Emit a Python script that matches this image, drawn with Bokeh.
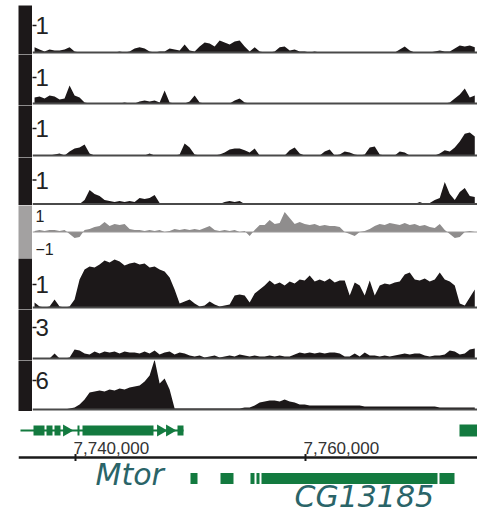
import math
from bokeh.plotting import figure
from bokeh.layouts import column, row
from bokeh.models import Range1d, Span, Spacer
from bokeh.core.properties import value
from bokeh.embed import file_html
from bokeh.resources import INLINE

# ---------------- data ----------------
BIN_START = 7736440
BIN_STEP = 435
positions = [BIN_START + BIN_STEP * k for k in range(89)]

track1 = [0.19,0.11,0.04,0.11,0.07,0.07,0.11,0.19,0.04,0, 0,0,0,0,0,0,0,0.04,0,0.04,
          0.15,0.19,0.15,0.04,0,0.04,0.04,0.15,0.11,0.07, 0.30,0.07,0.04,0.22,0.37,0.33,0.22,0.44,0.37,0.30,
          0.41,0.44,0.22,0.04,0.19,0.04,0,0,0.04,0.19, 0.22,0.07,0.11,0.04,0.04,0,0.04,0,0,0,
          0,0,0,0,0,0,0,0,0,0, 0,0,0,0.11,0.22,0.07,0,0,0,0,
          0.04,0.07,0.04,0.04,0.15,0.26,0.22,0.26,0.19]
track2 = [0.23,0.27,0.19,0.31,0.27,0.15,0.19,0.69,0.31,0.23, 0.04,0,0,0,0,0,0,0,0.04,0,
          0,0.08,0.12,0.08,0.12,0.04,0.50,0.04,0,0, 0,0.08,0.31,0.04,0,0,0,0,0,0,
          0.12,0.19,0.04,0,0,0,0,0,0,0, 0,0,0,0,0,0,0,0,0,0,
          0,0,0,0,0,0,0,0,0,0, 0,0,0,0,0,0,0,0,0,0,
          0,0,0,0.04,0.19,0.35,0.58,0.23,0.31]
track3 = [0,0,0,0,0.04,0.07,0,0.15,0.26,0.30, 0.41,0.07,0,0,0,0,0,0,0,0,
          0,0,0,0.07,0,0,0,0,0,0.04, 0.44,0.30,0.04,0,0,0,0,0.04,0.11,0.22,
          0.26,0.26,0.19,0.11,0.26,0,0,0,0,0, 0,0.19,0.30,0.07,0,0,0,0,0.15,0.22,
          0,0.04,0.15,0.11,0.04,0,0.04,0.30,0.33,0.04, 0,0,0,0.15,0.11,0,0,0,0,0,
          0,0.07,0.19,0.15,0.30,0.52,0.81,0.85,0.70]
track4 = [0,0,0,0,0,0,0,0,0.04,0, 0.17,0.58,0.42,0.33,0.17,0.13,0.08,0.13,0.08,0.13,
          0.08,0.25,0.21,0.25,0.38,0.04,0,0,0,0, 0,0,0,0,0,0,0,0,0.08,0.13,
          0.08,0.13,0,0,0,0,0,0,0,0, 0,0,0,0,0,0,0,0,0,0,
          0,0,0,0,0,0,0,0,0,0, 0,0,0,0,0,0,0,0.08,0,0.04,
          0.17,0.25,0.92,0.42,0.17,0.50,0.67,0.33,0.29]
track5 = [0.05,0.10,0.05,0.10,0.10,0.05,0.10,-0.10,-0.31,-0.26, 0.10,0.15,0.26,0.31,0.51,0.31,0.41,0.36,0.41,0.15,
          0.10,0.10,0.05,0.10,0.05,0.10,0,0.05,0.15,0.10, 0.15,0.10,0.15,0.10,0.21,0.31,0.10,0.05,0.10,0.05,
          0.10,0,0.05,-0.21,0.10,0.36,0.36,0.62,0.41,0.46, 1.03,0.72,0.41,0.51,0.41,0.36,0.41,0.31,0.36,0.31,
          0.31,0.26,0,-0.10,-0.21,0,0.05,0.15,0.31,0.41, 0.36,0.46,0.41,0.36,0.46,0.36,0.41,0.31,0.36,0.26,
          0.21,0.41,0.10,-0.10,-0.31,-0.26,0,0.05,0]
track6 = [0.22,0.04,0,0.04,0.35,0.04,0,0.04,0.35,1.22, 1.65,1.78,1.74,1.87,2.04,1.96,2.09,2.00,1.83,1.91,
          1.96,1.87,1.91,1.74,1.78,1.65,1.57,1.30,0.78,0.17, 0.26,0.35,0.17,0.04,0.09,0.26,0.13,0.04,0.09,0.13,
          0.52,0.57,0.52,0.22,0.61,0.78,0.96,1.17,1.00,1.09, 0.96,1.13,1.04,1.22,1.17,1.39,1.13,1.22,1.13,1.26,
          1.09,1.17,1.17,0.52,1.09,0.96,0.52,1.17,0.52,0.96, 1.04,1.00,1.09,1.13,1.43,1.52,1.22,1.17,1.26,1.13,
          1.22,1.52,1.22,1.13,0.96,0.17,0.09,0.43,0.78]
track7 = [0,0,0,0,0.49,0,0,0.10,0.87,0.78, 0.49,0.39,0.68,0.49,0.68,0.58,0.68,0.49,0.68,0.58,
          0.58,0.49,0.68,0.49,0.78,0.39,0.58,0.68,0.39,0.58, 0.49,0.29,0.19,0.29,0.10,0.19,0.29,0.10,0.19,0.29,
          0.19,0.39,0.29,0.19,0.29,0.19,0.19,0.29,0.19,0.29, 0.19,0.19,0.39,0.58,0.49,0.58,0.49,0.58,0.49,0.58,
          0.58,0.49,0.19,0.19,0.49,0.19,0.58,0.29,0.29,0.19, 0.29,0.19,0.29,0.39,0.49,0.39,0.49,0.49,0.29,0.19,
          0.29,0.29,0.39,0.78,0.68,0.39,0.49,0.87,0.97]
track8 = [0,0,0,0,0,0,0,0.21,0.41,1.04, 2.07,3.52,3.73,3.93,3.73,4.14,3.93,4.35,4.14,4.55,
          4.76,4.97,5.80,7.04,10.35,5.38,6.42,4.14,0.21,0.21, 0.21,0.21,0.21,0.21,0.21,0.21,0.21,0.21,0.21,0.21,
          0.21,0.21,0.41,0.41,0.83,1.45,1.66,1.86,1.86,1.66, 2.07,1.66,1.45,1.04,1.04,0.83,0.83,0.83,0.83,0.83,
          0.83,0.83,0.83,0.83,0.83,0.83,0.62,0.62,0.62,0.62, 0.62,0.62,0.62,0.62,0.62,0.62,0.62,0.62,0.62,0.62,
          0.62,0.41,0.41,0.41,0.41,0.41,0.41,0.41,0.41]

tracks = [track1, track2, track3, track4, track5, track6, track7, track8]
track_scale_ticks = [1, 1, 1, 1, None, 1, 3, 6]
track_scale_labels = ["1", "1", "1", "1", None, "1", "3", "6"]
diverging_ticks = [1, -1]
diverging_labels = ["1", "\u22121"]

# gene annotation (genomic coordinates)
mtor_span = [7735217, 7749391]
mtor_exon_start = [7736348, 7737478, 7738174, 7740174, 7740609, 7748870]
mtor_exon_end = [7737304, 7738000, 7738696, 7740348, 7746783, 7749391]
mtor_arrows = [7739217, 7747391, 7748174]
right_gene_start = [7773391]
right_gene_end = [7775600]
row2_exon_start = [7750000, 7752609, 7755217, 7755739, 7756174, 7771652]
row2_exon_end = [7750609, 7753739, 7755565, 7756000, 7771478, 7772957]
scale_ticks = [7740000, 7760000]
scale_labels = ["7,740,000", "7,760,000"]
gene_names = ["Mtor", "CG13185"]

# ---------------- layout / style ----------------
X_TRACK_START = 7736261
X_END = 7774957
X_GENE_START = 7735043
heights = [49, 51, 52, 48, 53, 51, 51, 51]
px_per_unit = [27, 26, 27, 24, 19.5, 23, 10.3, 4.83]
base_from_bottom = [2, 2, 2, 1.5, 26.5, 2, 2, 2]

BLACK = "#1c1819"
GRAY_BAR = "#a3a1a1"
GRAY_FILL = "#8f8d8d"
BASE = "#4a4a4a"
GREEN = "#137a3f"
NAME = "#2a6468"
FONT = "Liberation Sans"


def bare(p):
    p.grid.visible = False
    p.outline_line_color = None
    return p


rows = [Spacer(width=477, height=5)]
for i, vals in enumerate(tracks):
    h = heights[i]
    u = px_per_unit[i]
    b = base_from_bottom[i]
    lo, hi = -b / u, (h - b) / u
    gray = (i == 4)
    bar = bare(figure(width=32, height=h, min_border=0, min_border_left=18,
                      background_fill_color=GRAY_BAR if gray else BLACK,
                      border_fill_color="white", toolbar_location=None,
                      x_axis_location=None, y_axis_location=None,
                      output_backend="svg"))
    p = bare(figure(width=445, height=h, min_border=0,
                    x_range=Range1d(X_TRACK_START, X_END),
                    y_range=Range1d(lo, hi),
                    toolbar_location=None, x_axis_location=None, y_axis_location=None,
                    output_backend="svg"))
    p.varea(x=positions, y1=0, y2=vals, fill_color=GRAY_FILL if gray else BLACK)
    p.add_layout(Span(location=0, dimension="width",
                      line_color="#9a9898" if gray else BASE,
                      line_width=1 if gray else 2))
    if not gray:
        tv = track_scale_ticks[i]
        p.scatter(x=[X_TRACK_START], y=[tv], marker="dash", size=8,
                  line_color=BLACK, line_width=1.5)
        p.text(x=[X_TRACK_START], y=[tv], text=[track_scale_labels[i]],
               x_offset=3, text_baseline="middle", text_align="left",
               text_font=value(FONT), text_font_size="24px", text_color="#222222")
    else:
        p.text(x=[X_TRACK_START], y=[diverging_ticks[0]], text=[diverging_labels[0]],
               x_offset=3, y_offset=3, text_baseline="middle", text_align="left",
               text_font=value(FONT), text_font_size="16px", text_color="#222222")
        p.text(x=[X_TRACK_START], y=[diverging_ticks[1]], text=[diverging_labels[1]],
               x_offset=3, y_offset=-3, text_baseline="middle", text_align="left",
               text_font=value(FONT), text_font_size="16px", text_color="#222222")
    rows.append(row(bar, p))

# gene / coordinate area
g = bare(figure(width=477, height=104, min_border=0, min_border_left=18,
                x_range=Range1d(X_GENE_START, X_END), y_range=Range1d(104, 0),
                toolbar_location=None, x_axis_location=None, y_axis_location=None,
                output_backend="svg"))
ROW1, ROW2, AXIS_Y = 19, 67, 46
g.segment(x0=[mtor_span[0]], y0=[ROW1], x1=[mtor_span[1]], y1=[ROW1],
          line_color=GREEN, line_width=2)
g.hbar(y=ROW1, left=mtor_exon_start, right=mtor_exon_end, height=10,
       fill_color=GREEN, line_color=None)
g.scatter(x=mtor_arrows, y=[ROW1] * len(mtor_arrows), marker="triangle", angle=-math.pi / 2,
          size=12, fill_color=GREEN, line_color=None)
g.hbar(y=ROW1, left=right_gene_start, right=right_gene_end, height=12,
       fill_color=GREEN, line_color=None)
g.hbar(y=ROW2, left=row2_exon_start, right=row2_exon_end, height=11,
       fill_color=GREEN, line_color=None)
g.add_layout(Span(location=AXIS_Y, dimension="width", line_color="#1a1a1a", line_width=2.5))
g.scatter(x=scale_ticks, y=[AXIS_Y] * len(scale_ticks), marker="dash", angle=math.pi / 2,
          size=7, line_color="#1a1a1a", line_width=2)
g.text(x=scale_ticks, y=[AXIS_Y - 4] * len(scale_ticks), text=scale_labels,
       x_offset=-2, text_align="left", text_baseline="bottom",
       text_font=value(FONT), text_font_size="17px", text_color="#333333")
g.text(x=[7741739, 7759044], y=[63, 85], text=gene_names,
       text_align="left", text_baseline="middle", text_font=value("DejaVu Sans"),
       text_font_style="italic", text_font_size="30px", text_color=NAME)
rows.append(g)

layout = column(*rows, spacing=0)
open("out.html", "w").write(file_html(layout, INLINE))
